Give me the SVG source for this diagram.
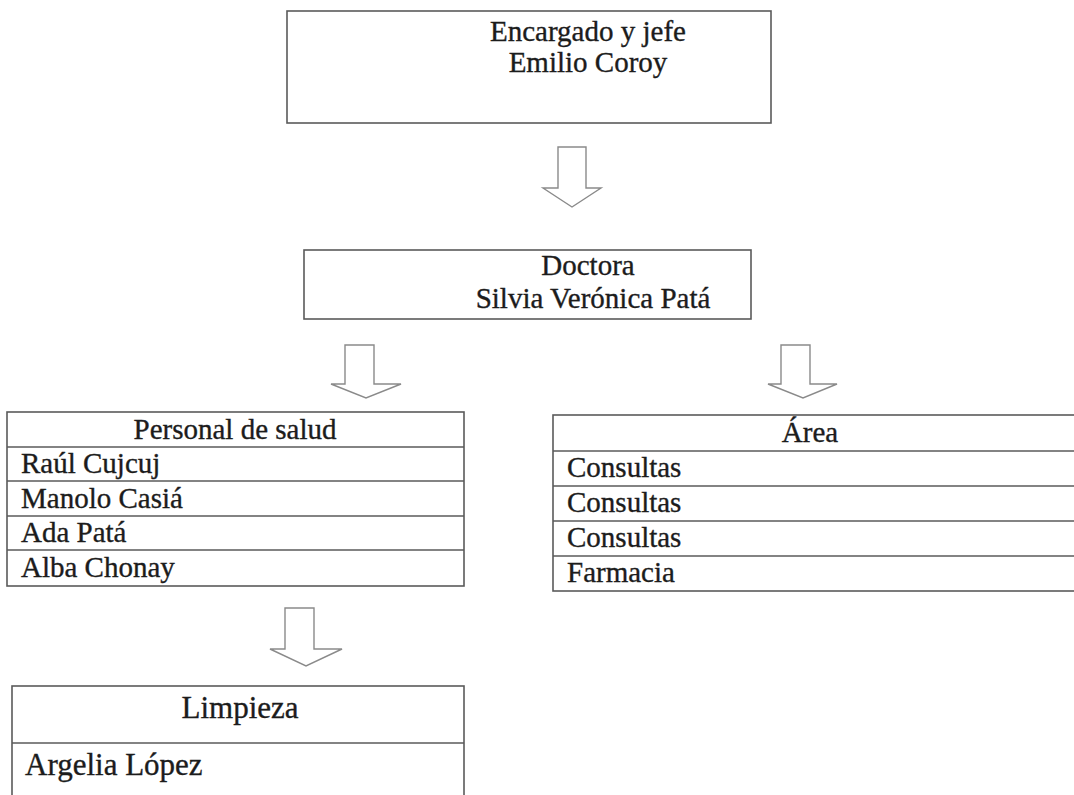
<svg xmlns="http://www.w3.org/2000/svg" width="1074" height="795" viewBox="0 0 1074 795">
<style>
.bg{fill:#ffffff}
.box{fill:#ffffff;stroke:#5a5a5a;stroke-width:1.6}
.ln{stroke:#5a5a5a;stroke-width:1.6;fill:none}
.t{font-family:"Liberation Serif","Times New Roman",serif;font-size:29px;fill:#1c1c1c;stroke:#1c1c1c;stroke-width:0.35}
.tl{font-family:"Liberation Serif","Times New Roman",serif;font-size:31px;fill:#1c1c1c;stroke:#1c1c1c;stroke-width:0.35}
.c{text-anchor:middle}
.arrow{fill:#ffffff;stroke:#8a8a8a;stroke-width:1.4;stroke-linejoin:miter}
</style>
<rect class="bg" x="0" y="0" width="1074" height="795"/>

<g id="connectors">
  <path class="arrow" d="M558,147 L586,147 L586,188 L601,188 L572,207 L543,188 L558,188 Z"/>
  <path class="arrow" d="M345,345 L374,345 L374,384 L401,384 L366,398 L331,384 L345,384 Z"/>
  <path class="arrow" d="M781,345 L810,345 L810,384 L837,384 L803,398 L768,384 L781,384 Z"/>
  <path class="arrow" d="M285,608 L314,608 L314,649 L342,649 L306,666 L270,649 L285,649 Z"/>
</g>

<g id="jefe">
  <rect class="box" x="287" y="11" width="484" height="112"/>
  <text class="t c" x="588" y="41">Encargado y jefe</text>
  <text class="t c" x="588" y="72">Emilio Coroy</text>
</g>

<g id="doctora">
  <rect class="box" x="304" y="250" width="447" height="69"/>
  <text class="t c" x="588" y="275">Doctora</text>
  <text class="t c" x="593" y="308">Silvia Verónica Patá</text>
</g>

<g id="personal">
  <rect class="box" x="7" y="412" width="457" height="174"/>
  <line class="ln" x1="7" y1="447" x2="464" y2="447"/>
  <line class="ln" x1="7" y1="481" x2="464" y2="481"/>
  <line class="ln" x1="7" y1="516" x2="464" y2="516"/>
  <line class="ln" x1="7" y1="550" x2="464" y2="550"/>
  <text class="t c" x="235" y="439">Personal de salud</text>
  <text class="t" x="21" y="473">Raúl Cujcuj</text>
  <text class="t" x="21" y="508">Manolo Casiá</text>
  <text class="t" x="21" y="542">Ada Patá</text>
  <text class="t" x="21" y="577">Alba Chonay</text>
</g>

<g id="area">
  <rect class="box" x="553" y="415" width="540" height="176"/>
  <line class="ln" x1="553" y1="451" x2="1093" y2="451"/>
  <line class="ln" x1="553" y1="486" x2="1093" y2="486"/>
  <line class="ln" x1="553" y1="521" x2="1093" y2="521"/>
  <line class="ln" x1="553" y1="556" x2="1093" y2="556"/>
  <text class="t c" x="810" y="442">Área</text>
  <text class="t" x="567" y="477">Consultas</text>
  <text class="t" x="567" y="512">Consultas</text>
  <text class="t" x="567" y="547">Consultas</text>
  <text class="t" x="567" y="582">Farmacia</text>
</g>

<g id="limpieza">
  <rect class="box" x="12" y="686" width="452" height="130"/>
  <line class="ln" x1="12" y1="743" x2="464" y2="743"/>
  <text class="tl c" x="240" y="718">Limpieza</text>
  <text class="tl" x="25" y="775">Argelia López</text>
</g>
</svg>
